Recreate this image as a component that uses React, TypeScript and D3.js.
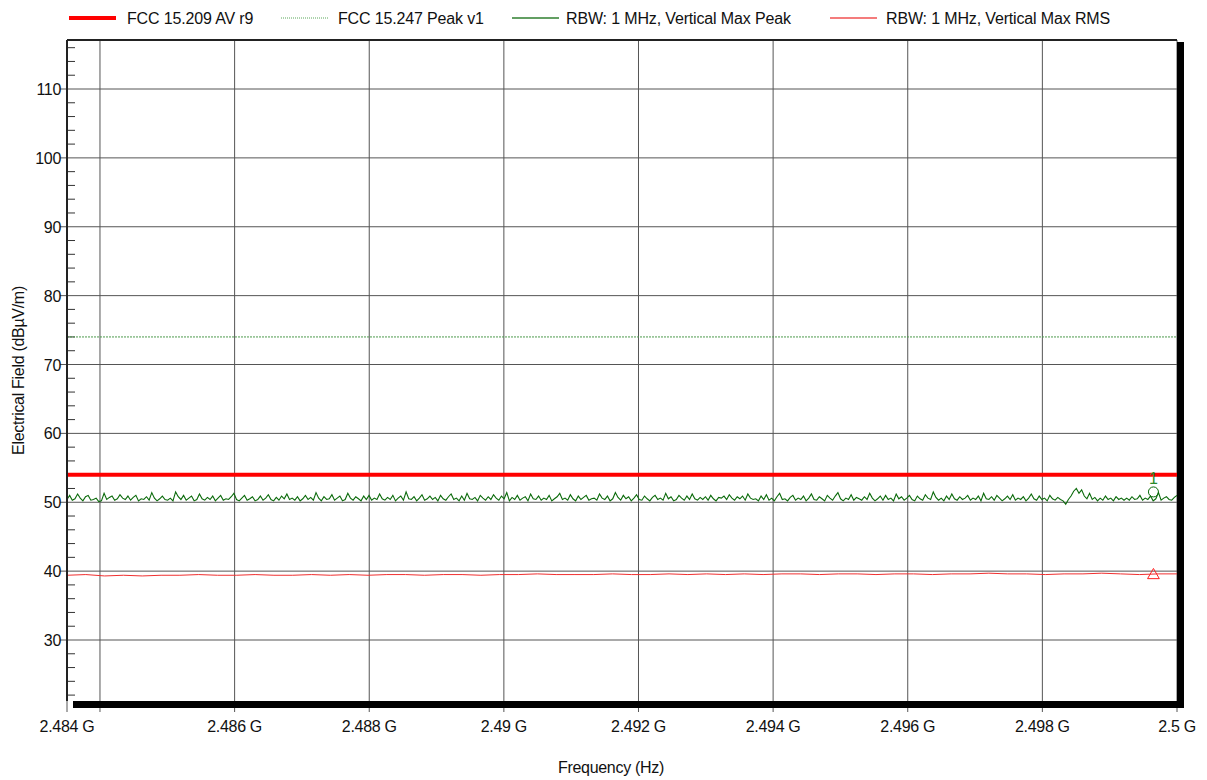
import React from "react";
import * as d3 from "d3";

const W = 1207;
const H = 780;

const MARGIN = { TOP: 40, RIGHT: 30, BOTTOM: 79, LEFT: 67 };

// frequency axis (GHz)
const X_START = 2.48351;
const X_END = 2.5;
const X_TICKS = [2.484, 2.486, 2.488, 2.49, 2.492, 2.494, 2.496, 2.498, 2.5];
const X_LABELS = ["2.484 G", "2.486 G", "2.488 G", "2.49 G", "2.492 G", "2.494 G", "2.496 G", "2.498 G", "2.5 G"];

// field strength axis (dBµV/m)
const Y_TICKS = [30, 40, 50, 60, 70, 80, 90, 100, 110];
const Y_MINOR = [22, 24, 26, 28, 32, 34, 36, 38, 42, 44, 46, 48, 52, 54, 56, 58, 62, 64, 66, 68, 72, 74, 76, 78, 82, 84, 86, 88, 92, 94, 96, 98, 102, 104, 106, 108, 112, 114, 116];

const LIMIT_AV = 54;
const LIMIT_PEAK = 74;

// RBW 1 MHz vertical max peak sweep
const PEAK = [
  50.4, 51.0, 50.3, 50.5, 51.2, 50.6, 50.2, 50.8, 51.0, 50.3, 50.4, 50.6, 50.1, 50.2, 51.3, 50.4, 50.7, 50.9, 50.3, 50.5,
  51.1, 50.6, 50.4, 50.9, 50.3, 50.7, 51.0, 50.2, 50.5, 50.4, 50.8, 50.3, 51.4, 50.6, 50.2, 50.5, 50.9, 50.4, 50.3, 50.6,
  50.2, 51.5, 50.8, 50.4, 51.0, 50.3, 50.6, 50.9, 50.2, 50.4, 51.2, 50.5, 50.3, 50.7, 50.4, 50.9, 50.2, 50.6, 51.0, 50.3,
  50.5, 50.4, 50.8, 51.3, 50.4, 50.2, 50.6, 51.0, 50.3, 50.5, 50.8, 50.2, 50.4, 50.9, 50.3, 50.6, 51.1, 50.4, 50.2, 50.7,
  50.3, 50.9, 50.5, 51.2, 50.4, 50.6, 50.3, 50.8, 50.2, 50.5, 51.0, 50.4, 50.7, 50.3, 51.4, 50.6, 50.2, 50.8, 50.4, 50.5,
  51.1, 50.3, 50.6, 50.9, 50.2, 50.4, 51.3, 50.6, 50.3, 50.8, 50.5, 50.2, 50.9, 50.4, 51.0, 50.3, 50.6, 50.4, 51.2, 50.5,
  50.3, 50.7, 50.4, 51.0, 50.2, 50.6, 50.9, 50.3, 51.5, 50.5, 50.4, 50.8, 50.2, 50.6, 51.1, 50.3, 50.5, 50.9, 50.4, 50.7,
  50.2, 51.0, 50.5, 50.3, 50.8, 51.2, 50.4, 50.6, 50.2, 50.9, 50.3, 51.3, 50.5, 50.4, 50.7, 50.2, 51.0, 50.6, 50.3, 50.8,
  50.4, 51.1, 50.6, 50.3, 50.9, 50.5, 51.4, 50.2, 50.7, 50.4, 51.0, 50.3, 50.6, 50.8, 50.2, 51.2, 50.5, 50.4, 50.9, 50.3,
  50.6, 50.4, 51.0, 50.2, 50.5, 50.8, 51.3, 50.4, 50.6, 50.3, 51.1, 50.5, 50.2, 50.9, 50.4, 50.7, 51.0, 50.3, 50.5, 50.6,
  50.3, 51.2, 50.6, 50.4, 50.9, 50.2, 50.5, 51.4, 50.7, 50.3, 51.0, 50.5, 50.8, 50.2, 50.6, 51.1, 50.4, 50.3, 50.9, 50.5,
  50.2, 50.7, 51.0, 50.4, 50.6, 50.3, 51.3, 50.5, 50.8, 50.2, 50.4, 51.0, 50.6, 50.3, 50.9, 50.4, 51.2, 50.5, 50.3, 50.7,
  50.4, 50.8, 50.3, 51.0, 50.5, 50.2, 50.7, 50.6, 50.9, 50.4, 51.1, 50.6, 50.3, 50.8, 50.5, 50.9, 50.3, 51.2, 50.6, 50.4,
  50.5, 50.2, 50.9, 50.4, 51.1, 50.3, 50.6, 50.2, 50.8, 51.3, 50.4, 50.5, 50.2, 50.7, 51.0, 50.3, 50.6, 50.4, 50.9, 50.2,
  50.6, 51.2, 50.4, 50.3, 50.8, 50.5, 50.2, 51.0, 50.6, 50.3, 50.9, 51.4, 50.5, 50.2, 50.6, 50.4, 51.1, 50.3, 50.7, 50.5,
  50.3, 50.8, 50.4, 51.3, 50.6, 50.2, 50.5, 50.9, 50.3, 51.0, 50.4, 50.6, 50.2, 51.2, 50.5, 50.8, 50.3, 50.6, 51.0, 50.4,
  50.2, 50.9, 50.5, 50.3, 51.1, 50.6, 50.4, 51.5, 50.7, 50.3, 50.6, 50.2, 50.9, 50.4, 51.2, 50.5, 50.3, 50.8, 50.4, 50.6,
  51.0, 50.3, 50.6, 50.4, 50.9, 50.2, 51.3, 50.5, 50.4, 50.8, 50.3, 51.0, 50.6, 50.2, 50.5, 50.9, 50.4, 51.1, 50.3, 50.6,
  50.4, 50.8, 50.2, 50.6, 51.2, 50.5, 50.3, 50.9, 50.4, 50.6, 50.2, 51.0, 50.5, 50.3, 50.7, 50.4, 50.2, 49.7, 50.4, 50.9,
  51.6, 52.0, 51.3, 51.8, 50.9, 50.5, 51.3, 50.4, 50.7, 50.2, 50.6, 50.3, 50.9, 50.4, 50.6, 50.2, 50.8, 50.4, 50.6, 50.3,
  50.6, 50.3, 50.8, 50.4, 50.5, 51.0, 50.3, 50.6, 50.4, 50.9, 50.2, 50.5, 51.4, 50.3, 50.6, 50.8, 50.4, 50.3, 50.7, 51.0,
];

// RBW 1 MHz vertical max RMS sweep
const RMS = [
  39.4, 39.5, 39.3, 39.4, 39.3, 39.4, 39.4, 39.5, 39.4, 39.4, 39.5, 39.4, 39.4, 39.5, 39.4, 39.5, 39.4, 39.5, 39.5, 39.4,
  39.5, 39.5, 39.4, 39.5, 39.5, 39.6, 39.5, 39.5, 39.5, 39.6, 39.5, 39.5, 39.6, 39.5, 39.6, 39.5, 39.6, 39.5, 39.6, 39.6,
  39.5, 39.6, 39.6, 39.5, 39.6, 39.6, 39.5, 39.6, 39.6, 39.7, 39.6, 39.6, 39.5, 39.6, 39.6, 39.7, 39.6, 39.5, 39.6, 39.6,
];

const MARKER_FREQ = 2.49965;
const MARKER_PEAK = 51.5;
const MARKER_RMS = 39.4;

const LEGEND = [
  { label: "FCC 15.209 AV r9", color: "#ff0000", width: 4, dash: "", x: 69, textX: 127 },
  { label: "FCC 15.247 Peak v1", color: "#5aa85a", width: 1, dash: "1,1", x: 281, textX: 338 },
  { label: "RBW: 1 MHz, Vertical Max Peak", color: "#2f7f2f", width: 1.5, dash: "", x: 512, textX: 566 },
  { label: "RBW: 1 MHz, Vertical Max RMS", color: "#f05050", width: 1.5, dash: "", x: 830, textX: 886 },
];

const FONT = "'Liberation Sans', Arial, sans-serif";

export default function App() {
  const left = MARGIN.LEFT;
  const right = W - MARGIN.RIGHT;
  const top = MARGIN.TOP;
  const bottom = H - MARGIN.BOTTOM;

  const x = d3.scaleLinear().domain([X_START, X_END]).range([left, right]);
  const y = d3.scaleLinear().domain([30, 110]).range([640, 89]);

  const stepPeak = (X_END - X_START) / (PEAK.length - 1);
  const stepRms = (X_END - X_START) / (RMS.length - 1);

  const line = d3.line<number>().curve(d3.curveLinear);
  const peakPath = line(PEAK.map((v, i) => [x(X_START + i * stepPeak), y(v)]) as any);
  const rmsPath = line(RMS.map((v, i) => [x(X_START + i * stepRms), y(v)]) as any);

  const mx = x(MARKER_FREQ);
  const myPeak = y(MARKER_PEAK);
  const myRms = y(MARKER_RMS);

  return (
    <svg width={W} height={H} style={{ position: "absolute", left: 0, top: 0, background: "#fff" }} fontFamily={FONT}>
      {/* legend */}
      {LEGEND.map((d) => (
        <g key={d.label}>
          <line x1={d.x} x2={d.x + 47} y1={18} y2={18} stroke={d.color} strokeWidth={d.width} strokeDasharray={d.dash || undefined} />
          <text x={d.textX} y={24} fontSize={16} letterSpacing={-0.15} fill="#111">{d.label}</text>
        </g>
      ))}

      {/* grid */}
      {Y_TICKS.map((t) => (
        <line key={"gy" + t} x1={left - 7} x2={right} y1={y(t)} y2={y(t)} stroke="#555" strokeWidth={1} />
      ))}
      {X_TICKS.map((t) => (
        <line key={"gx" + t} x1={x(t)} x2={x(t)} y1={top} y2={bottom + 11} stroke="#555" strokeWidth={1} />
      ))}
      <line x1={left} x2={left} y1={bottom} y2={bottom + 11} stroke="#555" strokeWidth={1} />

      {/* minor ticks */}
      {Y_MINOR.map((t) => (
        <line key={"my" + t} x1={left} x2={left + 8} y1={y(t)} y2={y(t)} stroke="#333" strokeWidth={1} />
      ))}

      {/* limits */}
      <line x1={left} x2={right} y1={y(LIMIT_PEAK)} y2={y(LIMIT_PEAK)} stroke="#4c9a4c" strokeWidth={1} strokeDasharray="2,1" />

      {/* traces */}
      <path d={rmsPath || ""} fill="none" stroke="#f03030" strokeWidth={1} />
      <path d={peakPath || ""} fill="none" stroke="#0a6a0a" strokeWidth={1.1} />
      <line x1={left} x2={right} y1={y(LIMIT_AV)} y2={y(LIMIT_AV)} stroke="#ff0000" strokeWidth={4} />

      {/* markers */}
      <circle cx={mx} cy={myPeak} r={5} fill="none" stroke="#0a6a0a" strokeWidth={1} />
      <text x={mx} y={myPeak - 8} textAnchor="middle" fontSize={16} fill="#2a8a2a">1</text>
      <path
        d={d3.symbol().type(d3.symbolTriangle).size(60)() || ""}
        transform={`translate(${mx},${myRms})`}
        fill="none"
        stroke="#ff2020"
        strokeWidth={1}
      />

      {/* frame */}
      <line x1={left} x2={right} y1={top} y2={top} stroke="#222" strokeWidth={2} />
      <line x1={left} x2={left} y1={top} y2={bottom} stroke="#222" strokeWidth={2} />
      <rect x={right} y={top + 2} width={7} height={bottom - top + 5} fill="#000" />
      <rect x={left + 6} y={bottom} width={right - left + 1} height={7} fill="#000" />

      {/* y labels */}
      {Y_TICKS.map((t) => (
        <text key={"ly" + t} x={left - 6} y={y(t) + 6} textAnchor="end" fontSize={16} letterSpacing={-0.3} fill="#111">{t}</text>
      ))}

      {/* x labels: first label sits at the axis start */}
      {X_TICKS.map((t, i) => (
        <text key={"lx" + t} x={i === 0 ? left : x(t)} y={bottom + 31} textAnchor="middle" fontSize={16} letterSpacing={-0.3} fill="#111">{X_LABELS[i]}</text>
      ))}

      {/* titles */}
      <text x={611} y={773} textAnchor="middle" fontSize={16} letterSpacing={-0.3} fill="#111">Frequency (Hz)</text>
      <text transform={`translate(24,${(top + bottom) / 2}) rotate(-90)`} textAnchor="middle" fontSize={16} letterSpacing={-0.3} fill="#111">Electrical Field (dBµV/m)</text>
    </svg>
  );
}
